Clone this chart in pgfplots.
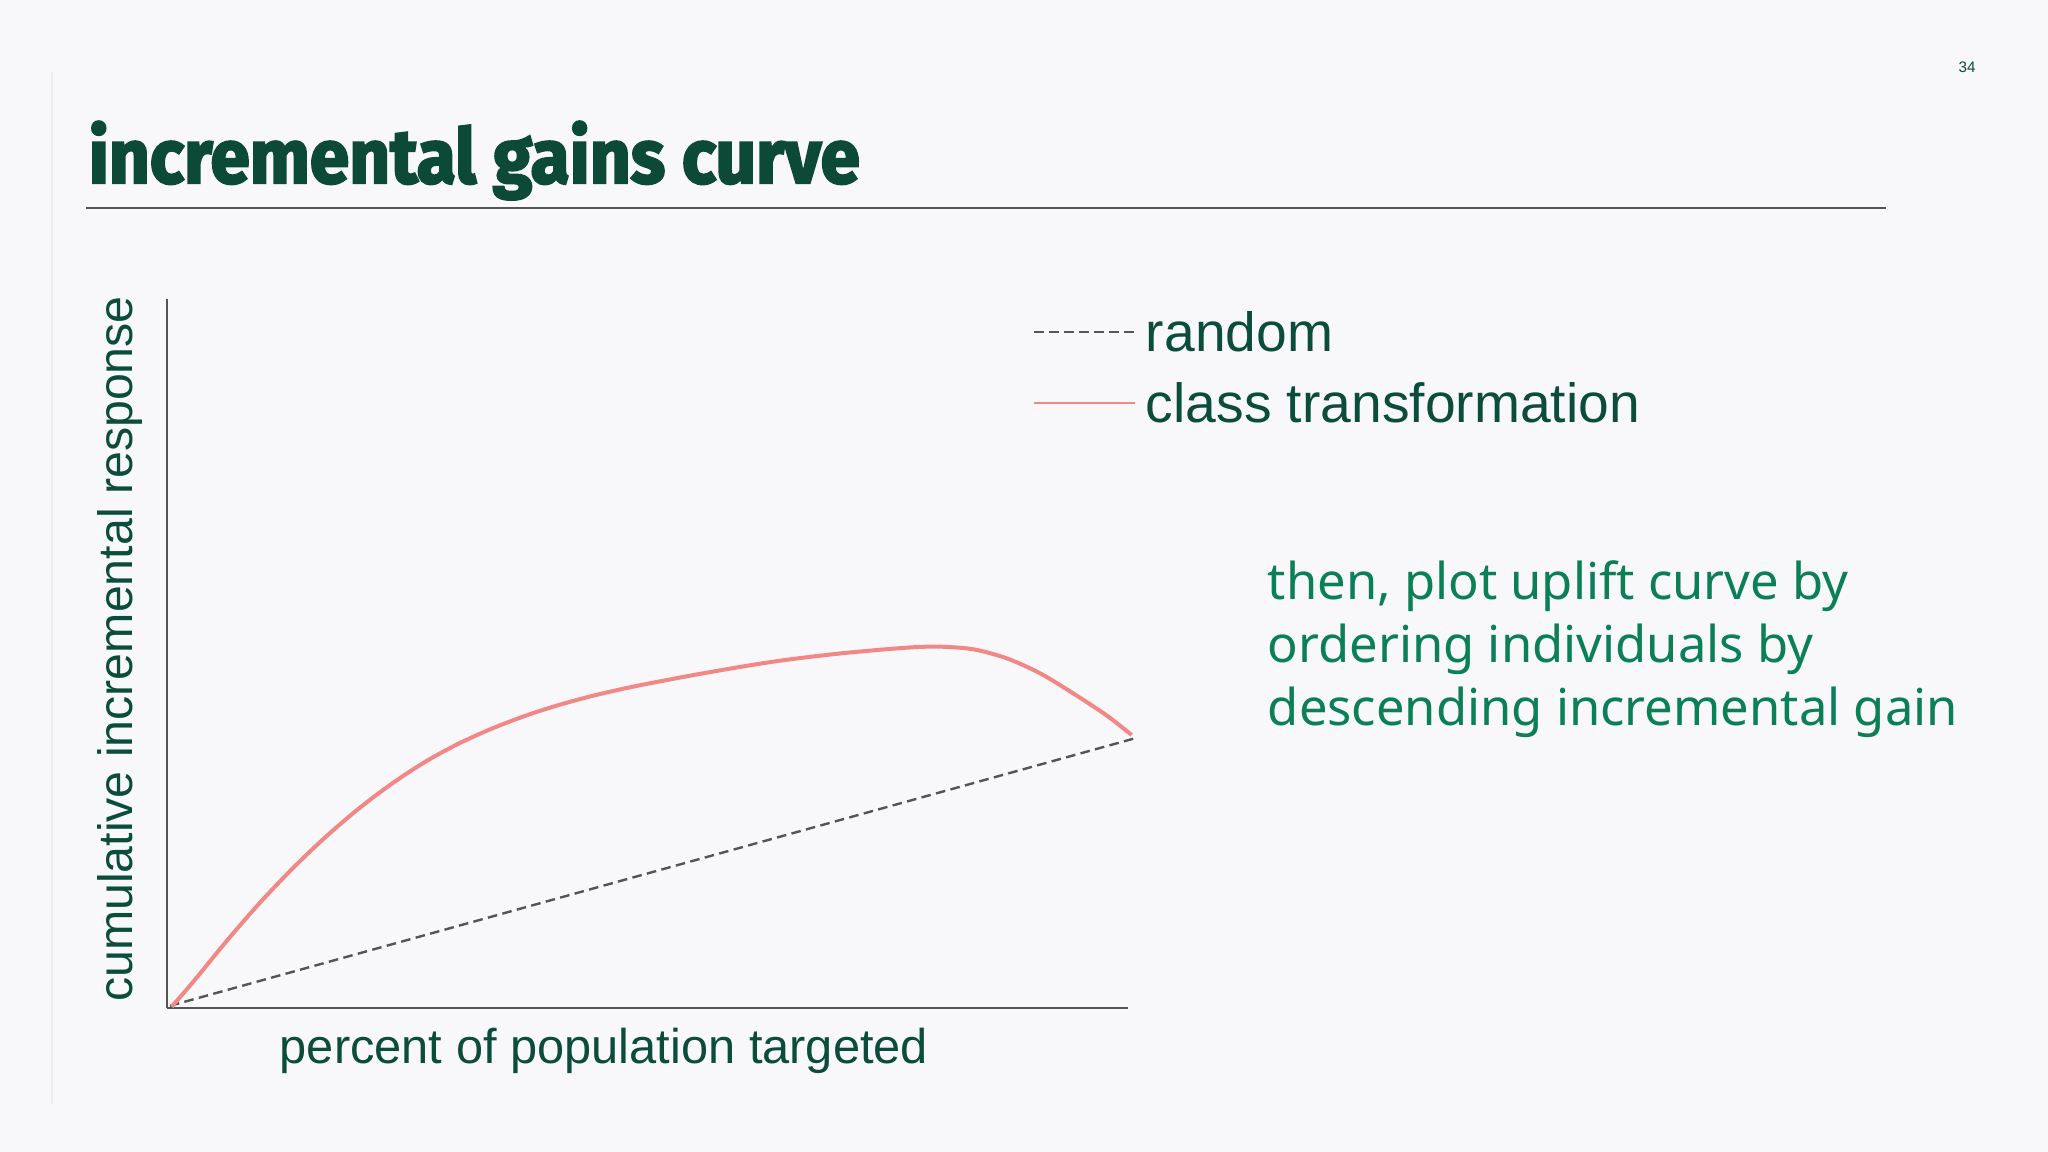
\documentclass[border=0pt]{standalone}
\usepackage{fontspec}
\usepackage{graphicx}
\usepackage{pgfplots}
\pgfplotsset{compat=1.18}
\setmainfont{Liberation Sans}
\newfontfamily\titlefont{Fira Sans}[BoldFeatures={FakeBold=3}]
\newfontfamily\notefont{Noto Sans}

\definecolor{bg}{HTML}{F8F8FA}
\definecolor{titlegreen}{HTML}{0C4A37}
\definecolor{labgreen}{HTML}{0B4D3A}
\definecolor{notegreen}{HTML}{0B7F56}
\definecolor{curvered}{HTML}{F28886}
\definecolor{axisgray}{HTML}{555555}
\definecolor{edgegray}{HTML}{ECECEE}

\pgfplotstableread{
x y
0.003 0.003
1.0073 0.3804
}\randomtab

\pgfplotstableread{
x y
0.0049 0.0019
0.0274 0.0371
0.0621 0.0945
0.0968 0.1486
0.1315 0.1979
0.1662 0.2426
0.2008 0.2826
0.2355 0.3178
0.2702 0.3484
0.3049 0.3738
0.3396 0.3949
0.3743 0.4128
0.4089 0.4278
0.4436 0.4405
0.4783 0.4513
0.5130 0.4607
0.5616 0.4729
0.6309 0.4885
0.7003 0.5000
0.7697 0.5082
0.8044 0.5096
0.8390 0.5059
0.8738 0.4932
0.9084 0.4721
0.9431 0.4436
0.9778 0.4126
1.0038 0.3850
}\classtab

\begin{document}
\begin{tikzpicture}
% slide background, 1px = 0.25pt
\fill[bg] (0,0) rectangle (512pt,288pt);
\path[use as bounding box] (0,0) rectangle (512pt,288pt);
\draw[edgegray, line width=0.4pt] (13pt,12pt) -- (13pt,270pt);

% title and rule
\node[anchor=base west, inner sep=0pt, text=titlegreen] at (22pt,242.25pt)
  {\resizebox{192.75pt}{\height}{\titlefont\bfseries\fontsize{19}{22}\selectfont incremental gains curve}};
\draw[axisgray, line width=0.6pt] (21.5pt,236pt) -- (471.5pt,236pt);
\node[inner sep=0pt, text=labgreen, font=\fontsize{3.8}{4}\selectfont] at (491.75pt,271.25pt) {34};

% side note
\begin{scope}[every node/.style={anchor=base west, inner sep=0pt, text=notegreen,
    font=\notefont\fontsize{12.68}{15.75}\selectfont}]
\node at (316.75pt,138pt) {then, plot uplift curve by};
\node at (316.75pt,122.25pt) {ordering individuals by};
\node at (316.75pt,106.5pt) {descending incremental gain};
\end{scope}

\begin{axis}[
    at={(41.75pt,36pt)}, anchor=south west,
    scale only axis, width=240.25pt, height=177.25pt,
    xmin=0, xmax=1, ymin=0, ymax=1,
    axis lines=left,
    axis line style={-, draw=axisgray, line width=0.6pt},
    ticks=none, clip=false,
    xlabel={percent of population targeted},
    ylabel={cumulative incremental response},
    xlabel style={at={(axis description cs:0.4547,-0.0776)}, anchor=base,
        inner sep=0pt, text=labgreen, font=\fontsize{12.2}{14}\selectfont},
    ylabel style={at={(axis description cs:-0.0354,0.5063)}, anchor=base,
        inner sep=0pt, text=labgreen, font=\fontsize{12.07}{14}\selectfont},
    legend cell align=left,
    legend image code/.code={\draw[#1, line width=0.5pt] (0pt,0pt) -- (25.25pt,0pt);},
    legend style={at={(axis description cs:0.9011,0.9817)}, anchor=north west,
        draw=none, fill=none, inner sep=0pt, outer sep=0pt,
        row sep=7.75pt, column sep=2.5pt, text=labgreen,
        font=\fontsize{13.8}{16}\selectfont,
        nodes={inner sep=0pt, text height=10pt, text depth=0pt}},
]
\addplot[axisgray, line width=0.6pt, dash pattern=on 2.4pt off 1.35pt] table {\randomtab};
\addlegendentry{random}
\addplot[curvered, line width=1pt, smooth] table {\classtab};
\addlegendentry{class transformation}
\end{axis}
\end{tikzpicture}
\end{document}
